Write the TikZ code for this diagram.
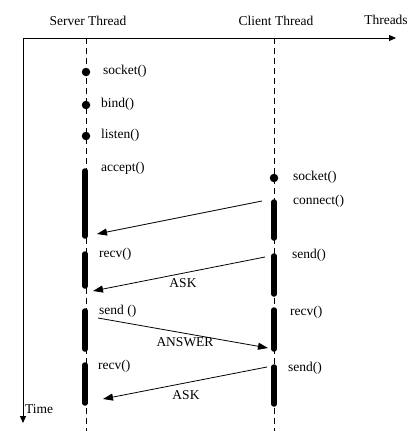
\documentclass[tikz,border=0pt]{standalone}
\usepackage{fontspec}
\setmainfont{Liberation Serif}
\usetikzlibrary{arrows.meta}
\begin{document}
\begin{tikzpicture}[x=1pt,y=-1pt,
  lbl/.style={font=\fontsize{13.5}{14}\selectfont, inner sep=0pt, anchor=west},
  hdr/.style={font=\fontsize{13.5}{14}\selectfont, inner sep=0pt},
  axis/.style={line width=0.9pt, -{Triangle[length=7pt,width=6pt]}},
  life/.style={line width=0.9pt, dash pattern=on 6pt off 4pt},
  dot/.style={circle, fill=black, inner sep=0pt, minimum size=8.5pt},
  bar/.style={line width=5.5pt, line cap=round},
  msg/.style={line width=0.8pt, -{Triangle[length=10pt,width=7pt]}}]
\useasboundingbox (0,0) rectangle (411,431);
\fill[white] (0,0) rectangle (411,431);
% axes
\coordinate (O) at (23,38);
\coordinate (Xend) at (396,38);
\coordinate (Yend) at (23,423);
\draw[axis] (O) -- (Xend);
\draw[axis] (O) -- (Yend);
\node[hdr] (threads) at (386,20) {Threads};
\node[hdr] (server) at (88,21) {Server Thread};
\node[hdr] (client) at (276,21) {Client Thread};
\node[lbl] (time) at (25,409) {Time};
% lifelines
\coordinate (s0) at (86,38); \coordinate (s1) at (86,431);
\coordinate (c0) at (274,38); \coordinate (c1) at (274,431);
\draw[life] (s0) -- (s1);
\draw[life] (c0) -- (c1);
% server dots
\node[dot] (sd1) at (86,72) {};
\node[dot] (sd2) at (86,105) {};
\node[dot] (sd3) at (86,136) {};
\node[lbl] (ssocket) at (103,71) {socket()};
\node[lbl] (sbind) at (101,104) {bind()};
\node[lbl] (slisten) at (101,135) {listen()};
\node[lbl] (saccept) at (101,168) {accept()};
% client dot
\node[dot] (cd1) at (274,178) {};
\node[lbl] (csocket) at (293,177) {socket()};
\node[lbl] (cconnect) at (293,201) {connect()};
% server bars
\draw[bar] (85,171) -- (85,236);
\draw[bar] (85,254) -- (85,286);
\draw[bar] (85,311) -- (85,349);
\draw[bar] (85,365) -- (85,403);
% client bars
\draw[bar] (274,202) -- (274,238);
\draw[bar] (274,256) -- (274,294);
\draw[bar] (274,310) -- (274,349);
\draw[bar] (274,367) -- (274,404);
% labels
\node[lbl] (srecv1) at (99,254) {recv()};
\node[lbl] (ssend) at (99,311) {send ()};
\node[lbl] (srecv2) at (98,366) {recv()};
\node[lbl] (csend1) at (292,255) {send()};
\node[lbl] (crecv) at (290,312) {recv()};
\node[lbl] (csend2) at (288,368) {send()};
% messages
\coordinate (m1a) at (262,201); \coordinate (m1b) at (97,234);
\coordinate (m2a) at (265,257); \coordinate (m2b) at (93,291);
\coordinate (m3a) at (98,318); \coordinate (m3b) at (268,348);
\coordinate (m4a) at (267,367); \coordinate (m4b) at (103,399);
\draw[msg] (m1a) -- (m1b);
\draw[msg] (m2a) -- (m2b);
\draw[msg] (m3a) -- (m3b);
\draw[msg] (m4a) -- (m4b);
\node[hdr] (ask1) at (183,283) {ASK};
\node[hdr] (answer) at (185,342) {ANSWER};
\node[hdr] (ask2) at (186,395) {ASK};
\end{tikzpicture}
\end{document}
